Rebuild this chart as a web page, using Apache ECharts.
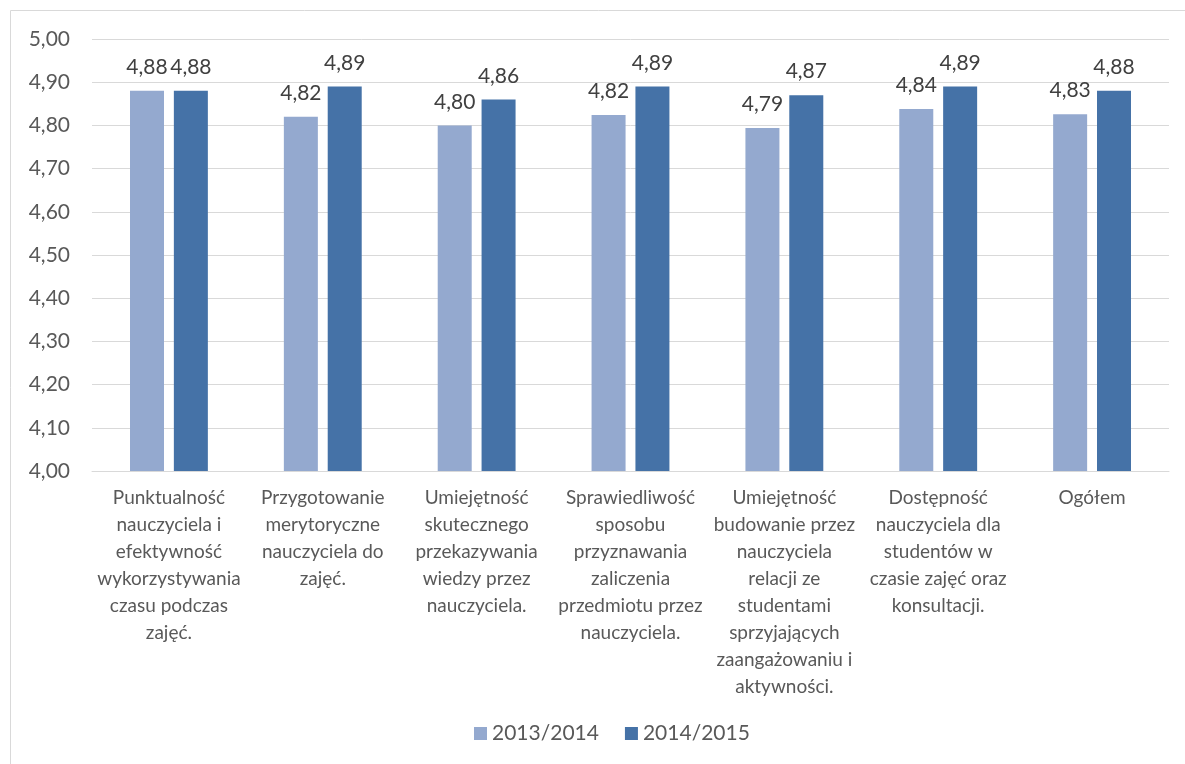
<!DOCTYPE html>
<html>
<head>
<meta charset="utf-8">
<script src="https://cdn.jsdelivr.net/npm/echarts@6/dist/echarts.min.js"></script>
<style>
  html, body { margin: 0; padding: 0; background: #fff; }
  #chart { width: 1185px; height: 764px; }
</style>
</head>
<body>
<div id="chart"></div>
<script>
// dane
const categories = [
  'Punktualność\nnauczyciela i\nefektywność\nwykorzystywania\nczasu podczas\nzajęć.',
  'Przygotowanie\nmerytoryczne\nnauczyciela do\nzajęć.',
  'Umiejętność\nskutecznego\nprzekazywania\nwiedzy przez\nnauczyciela.',
  'Sprawiedliwość\nsposobu\nprzyznawania\nzaliczenia\nprzedmiotu przez\nnauczyciela.',
  'Umiejętność\nbudowanie przez\nnauczyciela\nrelacji ze\nstudentami\nsprzyjających\nzaangażowaniu i\naktywności.',
  'Dostępność\nnauczyciela dla\nstudentów w\nczasie zajęć oraz\nkonsultacji.',
  'Ogółem'
]
const seriesNames = ['2013/2014', '2014/2015']
const values2013 = [4.88, 4.82, 4.80, 4.824, 4.794, 4.838, 4.826]
const values2014 = [4.88, 4.89, 4.86, 4.89, 4.87, 4.89, 4.88]
const yMin = 4
const yMax = 5
const yStep = 0.1

const FONT = 'Lato, "Open Sans", sans-serif'
const fmt = v => Number(v).toFixed(2).replace('.', ',')

const chart = echarts.init(document.getElementById('chart'))

const barLabel = {
  show: true,
  position: 'top',
  distance: 13,
  fontFamily: FONT,
  fontSize: 21,
  color: '#404040',
  formatter: p => fmt(p.value)
}

const option = {
  animation: false,
  textStyle: { fontFamily: FONT },
  graphic: [{
    type: 'rect',
    silent: true,
    shape: { x: 10.5, y: 10.5, width: 1300, height: 900 },
    style: { fill: 'none', stroke: '#d9d9d9', lineWidth: 1 }
  }],
  legend: {
    data: seriesNames,
    left: 469,
    top: 718,
    icon: 'rect',
    itemWidth: 13,
    itemHeight: 13,
    itemGap: 26,
    textStyle: { fontFamily: FONT, fontSize: 21, color: '#595959' }
  },
  grid: {
    left: 92,
    right: 16,
    top: 39,
    bottom: 293,
    containLabel: false
  },
  xAxis: {
    type: 'category',
    data: categories,
    axisTick: { show: false },
    axisLine: { show: true, lineStyle: { color: '#d9d9d9', width: 1 } },
    axisLabel: {
      interval: 0,
      margin: 13,
      fontFamily: FONT,
      fontSize: 19,
      lineHeight: 27,
      color: '#595959'
    }
  },
  yAxis: {
    type: 'value',
    min: yMin,
    max: yMax,
    interval: yStep,
    axisLine: { show: false },
    axisTick: { show: false },
    axisLabel: {
      margin: 22,
      fontFamily: FONT,
      fontSize: 21,
      color: '#595959',
      formatter: v => fmt(v)
    },
    splitLine: { lineStyle: { color: '#d9d9d9', width: 1 } }
  },
  series: [
    {
      name: seriesNames[0],
      type: 'bar',
      data: values2013,
      barWidth: 34,
      barGap: '29%',
      itemStyle: { color: '#94a9cf' },
      label: barLabel
    },
    {
      name: seriesNames[1],
      type: 'bar',
      data: values2014,
      barWidth: 34,
      barGap: '29%',
      itemStyle: { color: '#4572a7' },
      label: barLabel
    }
  ]
}

chart.setOption(option)
</script>
</body>
</html>
